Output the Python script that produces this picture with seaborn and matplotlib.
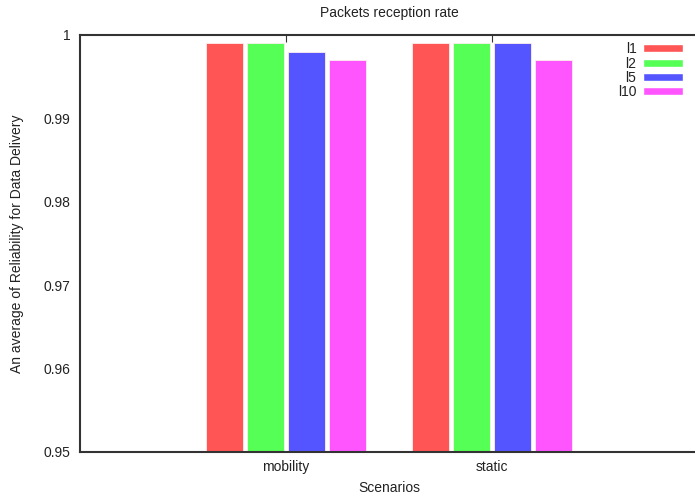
import matplotlib
matplotlib.use("Agg")
import matplotlib.pyplot as plt
import seaborn as sns
import pandas as pd
from matplotlib.patches import Patch

scenarios = ["mobility", "static"]
series = ["l1", "l2", "l5", "l10"]
l1 = [0.999, 0.999]
l2 = [0.999, 0.999]
l5 = [0.998, 0.999]
l10 = [0.997, 0.997]
colors = ["#ff5555", "#55ff55", "#5555ff", "#ff55ff"]

rows = []
for s, vals in zip(series, [l1, l2, l5, l10]):
    for sc, v in zip(scenarios, vals):
        rows.append({"Scenario": sc, "Series": s, "Value": v})
df = pd.DataFrame(rows)

sns.set_style("white")
plt.rcParams['font.family'] = ['Liberation Sans', 'DejaVu Sans']
plt.rcParams['text.color'] = '#222222'
plt.rcParams['axes.labelcolor'] = '#222222'
plt.rcParams['xtick.labelcolor'] = '#222222'
plt.rcParams['ytick.labelcolor'] = '#222222'

FS = 10

fig = plt.figure(figsize=(6.95, 4.98), dpi=100)
ax = fig.add_axes([80/695, 46/498, 618/695, 417/498])

sns.barplot(data=df, x="Scenario", y="Value", hue="Series", hue_order=series,
            order=scenarios, palette=colors, width=0.8, gap=0.1, ax=ax,
            legend=False, edgecolor="#ffeeee", linewidth=0.6, saturation=1)

ax.set_xlim(-1, 2)
ax.set_ylim(0.95, 1.0)
ax.set_yticks([0.95, 0.96, 0.97, 0.98, 0.99, 1.0])
ax.set_yticklabels(["0.95", "0.96", "0.97", "0.98", "0.99", "1"])
ax.tick_params(axis="both", direction="in", length=5, width=0.8, color="#333333",
               labelsize=FS, top=True, right=False)
ax.tick_params(axis="x", pad=6)
ax.tick_params(axis="y", pad=7)
for sp in ax.spines.values():
    sp.set_color("#333333")
    sp.set_linewidth(1.5)

ax.set_title("Packets reception rate", fontsize=FS, pad=13)
ax.set_xlabel("Scenarios", fontsize=FS, labelpad=5)
ax.set_ylabel("An average of Reliability for Data Delivery", fontsize=FS, labelpad=14)

handles = [Patch(facecolor=c, edgecolor="white") for c in colors]
leg = ax.legend(handles, series, loc="upper right", bbox_to_anchor=((683-80)/618, 0.983),
                frameon=False, markerfirst=False, handlelength=2.85, handleheight=0.5,
                labelspacing=0.03, fontsize=FS, handletextpad=0.5, borderaxespad=0,
                borderpad=0)
for t in leg.get_texts():
    t.set_ha("right")

fig.savefig("out.png", dpi=100)
